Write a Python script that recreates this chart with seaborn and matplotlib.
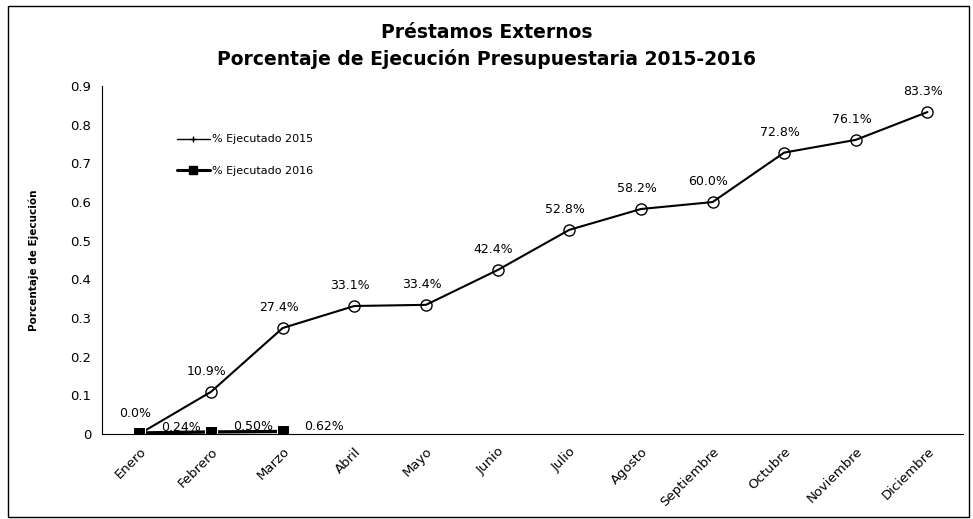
import numpy as np
import pandas as pd
import seaborn as sns
import matplotlib.pyplot as plt
from matplotlib.lines import Line2D
from matplotlib.patches import Rectangle

meses = ["Enero", "Febrero", "Marzo", "Abril", "Mayo", "Junio", "Julio",
         "Agosto", "Septiembre", "Octubre", "Noviembre", "Diciembre"]
ejec_2015 = [0.0, 0.109, 0.274, 0.331, 0.334, 0.424, 0.528, 0.582, 0.600, 0.728, 0.761, 0.833]
ejec_2016 = [0.0024, 0.0050, 0.0062]
etiq_2015 = ["0.0%", "10.9%", "27.4%", "33.1%", "33.4%", "42.4%", "52.8%",
             "58.2%", "60.0%", "72.8%", "76.1%", "83.3%"]
etiq_2016 = ["0.24%", "0.50%", "0.62%"]

sns.set_style("white")
plt.rcParams["font.family"] = ["DejaVu Sans"]
plt.rcParams["text.color"] = "black"
plt.rcParams["axes.labelcolor"] = "black"
plt.rcParams["xtick.color"] = "black"
plt.rcParams["ytick.color"] = "black"

df15 = pd.DataFrame({"x": np.arange(len(meses)), "y": ejec_2015})
df16 = pd.DataFrame({"x": np.arange(len(ejec_2016)), "y": ejec_2016})

fig = plt.figure(figsize=(9.73, 5.19), dpi=100)
ax = fig.add_axes([0.105, 0.164, 0.885, 0.670])

sns.lineplot(data=df15, x="x", y="y", ax=ax, color="black", lw=1.5,
             marker="o", markersize=8, markerfacecolor="none",
             markeredgecolor="black", markeredgewidth=1.0, legend=False)
sns.lineplot(data=df16, x="x", y="y", ax=ax, color="black", lw=2.4,
             marker="s", markersize=8, legend=False)

for i, (v, t) in enumerate(zip(ejec_2015, etiq_2015)):
    ax.annotate(t, (i, v), xytext=(-3, 10), textcoords="offset points",
                ha="center", va="bottom", fontsize=9)
for i, (v, t) in enumerate(zip(ejec_2016, etiq_2016)):
    ax.annotate(t, (i, v), xytext=(30, -1), textcoords="offset points",
                ha="center", va="bottom", fontsize=9)

ax.set_xlim(-0.52, 11.5)
ax.set_ylim(0, 0.9)
ax.set_yticks(np.arange(0, 0.91, 0.1))
ax.set_yticklabels(["0"] + [f"{v:.1f}" for v in np.arange(0.1, 0.91, 0.1)])
ax.set_xticks(np.arange(len(meses)))
ax.set_xticklabels(meses, rotation=45, ha="right", rotation_mode="anchor")
ax.tick_params(axis="both", labelsize=9.5, length=0, pad=8)
ax.set_xlabel("")
ax.set_ylabel("Porcentaje de Ejecución", fontsize=7.5, fontweight="bold", labelpad=22)
for s in ["top", "right"]:
    ax.spines[s].set_visible(False)
for s in ["left", "bottom"]:
    ax.spines[s].set_color("black")
    ax.spines[s].set_linewidth(0.8)

handles = [
    Line2D([], [], color="black", lw=1.0, marker="+", markersize=4),
    Line2D([], [], color="black", lw=2.2, marker="s", markersize=6),
]
ax.legend(handles, ["% Ejecutado 2015", "% Ejecutado 2016"], loc="upper left",
          bbox_to_anchor=(0.075, 0.89), frameon=False, fontsize=8,
          handlelength=3.0, labelspacing=1.9, handletextpad=0.2)

fig.suptitle("Préstamos Externos\nPorcentaje de Ejecución Presupuestaria 2015-2016",
             fontsize=13.5, fontweight="bold", y=0.955, linespacing=1.4)

fig.patches.append(Rectangle((0.008, 0.003), 0.988, 0.985, transform=fig.transFigure,
                             fill=False, edgecolor="black", lw=1.0))

fig.savefig("out.png", dpi=100)
